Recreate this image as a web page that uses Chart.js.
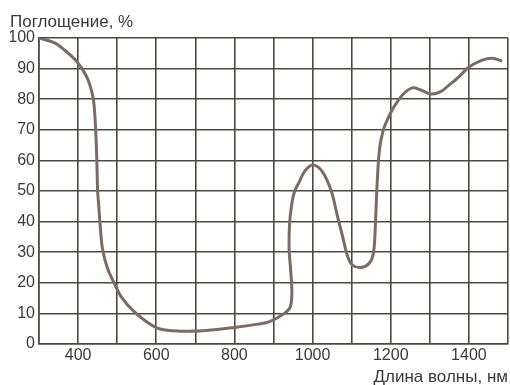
<!DOCTYPE html>
<html>
<head>
<meta charset="utf-8">
<script src="https://cdn.jsdelivr.net/npm/chart.js@4/dist/chart.umd.min.js"></script>
<style>
  html, body { margin: 0; padding: 0; background: #ffffff; }
  #c { display: block; }
</style>
</head>
<body>
<canvas id="c" width="510" height="385"></canvas>
<script>
// Wavelength, nm
const wavelengths = [300, 340, 366, 392, 410, 425, 436, 441, 445, 448, 450, 453, 456, 463, 476, 494, 510, 540, 576, 610, 660, 720, 800, 860, 890, 928, 943, 947, 944, 940, 941, 946, 953, 966, 980, 1000, 1024, 1047, 1064, 1077, 1090, 1102, 1124, 1145, 1156, 1161, 1165, 1171, 1180, 1192, 1206, 1230, 1255, 1277, 1303, 1328, 1349, 1375, 1400, 1434, 1460, 1485];
// Absorption, %
const absorption = [100, 98.4, 96, 93, 90, 86.5, 82, 78, 70, 60, 50, 45, 39.5, 30.7, 24.5, 19.5, 15.5, 11, 7.2, 4.9, 4.2, 4.3, 5.4, 6.5, 7.3, 10, 12.2, 17, 24, 31, 39, 45, 49.5, 53, 56.5, 58.5, 56.5, 50.3, 41.6, 35, 28.5, 25.8, 25, 26.4, 30, 40, 52, 63.4, 69.5, 73.5, 77, 81.4, 83.7, 83, 81.7, 82.5, 84.6, 87.4, 90.5, 92.8, 93.4, 92.5];
const yTicks = [0, 10, 20, 30, 40, 50, 60, 70, 80, 90, 100];
const xTickLabels = [400, 600, 800, 1000, 1200, 1400];

const yTitle = 'Поглощение, %';
const xTitle = 'Длина волны, нм';

const points = wavelengths.map((w, i) => ({ x: w, y: absorption[i] }));

const gridColor = '#4f4842';
const textColor = '#3a3a3a';
const font = { family: '"Liberation Sans", Arial, sans-serif', size: 16 };
const titleFont = { family: '"Liberation Sans", Arial, sans-serif', size: 17 };

new Chart(document.getElementById('c'), {
  type: 'line',
  data: {
    datasets: [{
      data: points,
      borderColor: '#7b6b63',
      borderWidth: 3,
      pointRadius: 0,
      fill: false,
      tension: 0.35
    }]
  },
  options: {
    responsive: false,
    animation: false,
    events: [],
    layout: { padding: { left: 10, right: 1, top: 0, bottom: 0 } },
    plugins: {
      legend: { display: false },
      tooltip: { enabled: false },
      title: {
        display: true,
        text: yTitle,
        align: 'start',
        color: textColor,
        font: Object.assign({}, titleFont, { weight: 'normal', lineHeight: 1.2 }),
        padding: { top: 12, bottom: 5.6 }
      }
    },
    scales: {
      x: {
        type: 'linear',
        min: 300,
        max: 1500,
        ticks: {
          stepSize: 100,
          color: textColor,
          font: font,
          padding: 2,
          maxRotation: 0,
          autoSkip: false,
          callback: v => xTickLabels.includes(v) ? String(v) : ''
        },
        grid: { color: gridColor, lineWidth: 1.6, drawTicks: false },
        border: { color: gridColor, width: 1.6 },
        title: {
          display: true,
          text: xTitle,
          align: 'end',
          color: textColor,
          font: Object.assign({}, titleFont, { lineHeight: 1 }),
          padding: { top: 0, bottom: -0.5 }
        },
        afterFit: s => { s.height = 41; }
      },
      y: {
        min: 0,
        max: 100,
        afterBuildTicks: s => { s.ticks = yTicks.map(v => ({ value: v })); },
        ticks: { color: textColor, font: font, padding: 4 },
        grid: { color: gridColor, lineWidth: 1.6, drawTicks: false },
        border: { color: gridColor, width: 1.6 },
        afterFit: s => { s.width = 29; }
      }
    }
  }
});
</script>
</body>
</html>
